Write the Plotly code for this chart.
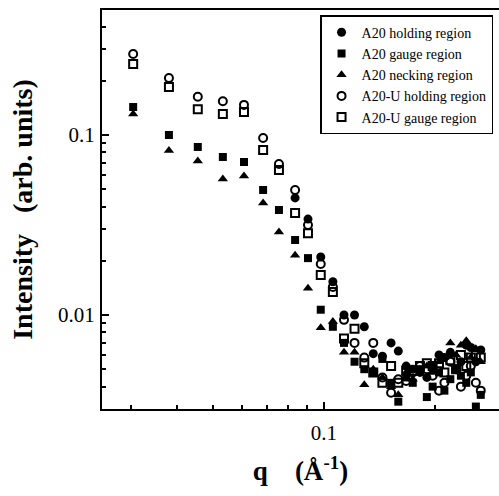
import plotly.graph_objects as go

# q values (1/Angstrom)
q = [0.0304, 0.038, 0.0455, 0.0532, 0.0607, 0.0684, 0.0755, 0.0835, 0.0905, 0.098,
     0.1057, 0.1133, 0.121, 0.1286, 0.136, 0.144, 0.152, 0.159, 0.167, 0.174,
     0.182, 0.19, 0.197, 0.205, 0.212, 0.22, 0.228, 0.235, 0.243, 0.25, 0.258, 0.266]

a20_holding = [None] * 7 + [0.0447, 0.0341, 0.021, 0.0153, 0.0100, 0.0100, 0.0086, 0.0061, 0.0059, 0.0070,
                            0.0063, 0.0052, 0.0050, 0.0048, 0.0045, 0.0052, 0.0060, 0.0058, 0.0062, 0.0050,
                            0.0055, 0.0068, 0.0066, 0.0055, 0.0064]
a20_gauge = [0.143, 0.100, 0.0858, 0.0755, 0.0708, 0.0495, 0.0383, 0.0261, 0.0207, 0.0107,
             0.0086, 0.0070, 0.0055, 0.0050, 0.0048, 0.0057, 0.0042, 0.0033, 0.0045, 0.0042,
             0.0050, 0.0035, 0.0040, 0.0048, 0.0038, 0.0044, 0.0050, 0.0046, 0.0042, 0.0048, 0.0031, 0.0036]
a20_necking = [0.131, 0.082, 0.0717, 0.0569, 0.0591, 0.0419, 0.0289, 0.0215, 0.0141, 0.0085,
               0.0092, 0.0062, 0.0062, 0.0041, 0.0050, 0.0045, 0.0040, 0.0036, 0.0048, 0.0044,
               0.0050, 0.0052, 0.0048, 0.0055, 0.0058, 0.0070, 0.0060, 0.0068, 0.0072, 0.0058, 0.0065, 0.0055]
a20u_holding = [0.282, 0.207, 0.163, 0.154, 0.147, 0.0962, 0.069, 0.0495, 0.0316, 0.0192,
                0.0143, 0.0094, 0.0070, 0.0058, 0.0070, 0.0045, 0.0037, 0.0044, 0.0043, 0.0048,
                0.0052, 0.0050, 0.0046, 0.0038, 0.0042, 0.0055, 0.0050, 0.0040, 0.0046, 0.0052, 0.0042, 0.0038]
a20u_gauge = [0.248, 0.185, 0.139, 0.131, 0.134, 0.0825, 0.0639, 0.0369, 0.0285, 0.0167,
              0.0134, 0.0074, 0.0084, 0.0054, 0.0048, 0.0042, 0.0052, 0.0042, 0.0049, 0.0049,
              0.0052, 0.0054, 0.0052, 0.0054, 0.0048, 0.0056, 0.0050, 0.0060, 0.0052, 0.0058, 0.0060, 0.0058]

series_names = ["A20 holding region", "A20 gauge region", "A20 necking region",
                "A20-U holding region", "A20-U gauge region"]

y_major = [0.01, 0.1]
y_major_text = ["0.01", "0.1"]
y_minor = [0.004, 0.005, 0.006, 0.007, 0.008, 0.009,
           0.02, 0.03, 0.04, 0.05, 0.06, 0.07, 0.08, 0.09, 0.2, 0.3, 0.4]
x_major = [0.1]
x_major_text = ["0.1"]
x_minor = [0.03, 0.04, 0.05, 0.06, 0.07, 0.08, 0.09, 0.2]

SERIF = "Liberation Serif, Times New Roman, serif"
NB = "\u00a0"

styles = [
    dict(symbol="circle", size=9, color="black", line=dict(width=0)),
    dict(symbol="square", size=8, color="black", line=dict(width=0)),
    dict(symbol="triangle-up", size=9, color="black", line=dict(width=0)),
    dict(symbol="circle-open", size=8, color="black", line=dict(width=2, color="black")),
    dict(symbol="square-open", size=8, color="black", line=dict(width=2, color="black")),
]
data = [a20_holding, a20_gauge, a20_necking, a20u_holding, a20u_gauge]

fig = go.Figure()
for name, ys, st in zip(series_names, data, styles):
    fig.add_trace(go.Scatter(x=q, y=ys, mode="markers", name=name, marker=st))

fig.update_layout(
    width=499, height=496,
    margin=dict(l=102, r=0, t=10, b=87),
    paper_bgcolor="white", plot_bgcolor="white",
    font=dict(family=SERIF, color="black", size=21),
    showlegend=True,
    legend=dict(
        x=0.985, xanchor="right", y=0.987, yanchor="top",
        bordercolor="black", borderwidth=1.5, bgcolor="white",
        font=dict(family=SERIF, size=14, color="black"),
    ),
    xaxis=dict(
        type="log", range=[-1.6016, -0.5257],
        showline=True, linecolor="black", linewidth=2, mirror=True,
        showgrid=False, zeroline=False,
        ticks="inside", ticklen=7, tickwidth=1.5, tickcolor="black",
        tickmode="array", tickvals=x_major, ticktext=x_major_text,
        ticklabelstandoff=4,
        minor=dict(ticks="inside", ticklen=4, tickwidth=1.5, tickcolor="black",
                   tickmode="array", tickvals=x_minor, showgrid=False),
        title=dict(text="q" + NB * 4 + "(Å<sup>-1</sup>)",
                   font=dict(family=SERIF, size=27, color="black", weight="bold"),
                   standoff=17),
    ),
    yaxis=dict(
        type="log", range=[-2.5222, -0.3056],
        showline=True, linecolor="black", linewidth=2, mirror=False,
        showgrid=False, zeroline=False,
        ticks="inside", ticklen=7, tickwidth=1.5, tickcolor="black",
        tickmode="array", tickvals=y_major, ticktext=y_major_text,
        ticklabelstandoff=1,
        minor=dict(ticks="inside", ticklen=4, tickwidth=1.5, tickcolor="black",
                   tickmode="array", tickvals=y_minor, showgrid=False),
        title=dict(text="Intensity" + NB * 3 + "(arb. units)",
                   font=dict(family=SERIF, size=28, color="black", weight="bold"),
                   standoff=17),
    ),
)

fig.write_html("out.html")
